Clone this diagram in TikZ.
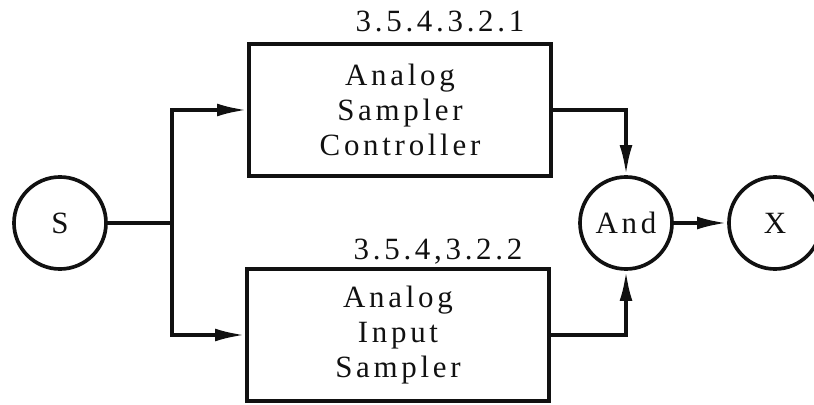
\documentclass[tikz,border=0pt]{standalone}
\usepackage{fontspec}
\setmainfont{Liberation Serif}[LetterSpace=12]
\usepackage{tikz}
\usetikzlibrary{arrows.meta}
\definecolor{InkBlack}{HTML}{111111}

\begin{document}
\begin{tikzpicture}[x=0.025cm, y=-0.025cm, line width=2.6pt, InkBlack,
    font=\fontsize{22}{25}\selectfont,
    block/.style={draw, rectangle, align=center, minimum width=7.55cm,
      minimum height=3.3cm},
    gate/.style={draw, circle, minimum size=2.3cm, inner sep=0pt},
    flow/.style={-{Latex[length=7.5mm, width=3.2mm]}}]
  \useasboundingbox (0,0) rectangle (814,405);
  % Circles
  \node[gate] (S) at (60,223) {S};
  \node[gate] (and) at (626,223) {And};
  \node[gate] (X) at (775,223) {X};
  % Blocks
  \node[block] (ctrl) at (400,110) {Analog\\Sampler\\Controller};
  \node[block] (inp) at (398,335) {Analog\\Input\\Sampler};
  % numbers
  \node[anchor=base] (ctrlnum) at (440,32) {3.5.4.3.2.1};
  \node[anchor=base] (inpnum) at (438,260) {3.5.4,3.2.2};
  % Lines
  \coordinate (split) at (172,223);
  \draw (S) -- (split);
  \draw[flow] (split) |- (ctrl);
  \draw[flow] (split) |- (inp);
  \draw[flow] (ctrl) -| (and);
  \draw[flow] (inp) -| (and);
  \draw[flow] (and) -- (X);
\end{tikzpicture}
\end{document}
